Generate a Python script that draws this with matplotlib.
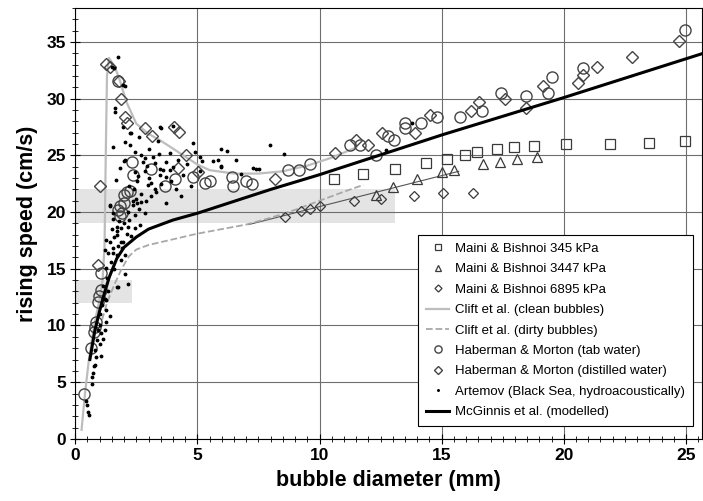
import numpy as np
import matplotlib
matplotlib.use("Agg")
import matplotlib.pyplot as plt
from matplotlib.patches import Rectangle
from matplotlib.ticker import MultipleLocator

plt.rcParams['font.family'] = ['Liberation Sans', 'DejaVu Sans']

# Maini & Bishnoi 345 kPa (squares)
mb345_x = [10.6, 11.8, 13.1, 14.35, 15.2, 15.95, 16.45, 17.25, 17.95, 18.8, 20.1, 21.9, 23.5, 24.95]
mb345_y = [22.9, 23.4, 23.8, 24.35, 24.7, 25.0, 25.3, 25.6, 25.7, 25.8, 26.0, 26.0, 26.1, 26.3]

# Maini & Bishnoi 3447 kPa (triangles)
mb3447_x = [12.3, 13.0, 14.0, 15.0, 15.5, 16.7, 17.4, 18.1, 18.9]
mb3447_y = [21.5, 22.2, 22.9, 23.5, 23.7, 24.2, 24.45, 24.7, 24.9]

# Maini & Bishnoi 6895 kPa (small diamonds)
mb6895_x = [8.6, 9.26, 9.6, 10.0, 11.4, 12.5, 13.85, 15.05, 16.28]
mb6895_y = [19.6, 20.1, 20.3, 20.55, 21.0, 21.2, 21.45, 21.7, 21.7]

# thin fit line through the Maini data
fit_x = [7.1, 15.7]
fit_y = [18.9, 23.6]

# Clift et al. clean bubbles
clean_x = [0.26, 0.4, 0.55, 0.7, 0.85, 1.0, 1.12, 1.2, 1.25, 1.3, 1.38, 1.6, 1.8, 2.1, 2.5, 3.0,
           3.5, 4.0, 4.5, 5.0, 5.5, 6.5, 7.5, 8.5, 9.5, 10.5, 11.5]
clean_y = [0.8, 4.0, 6.8, 9.0, 10.8, 12.3, 14.0, 17.0, 25.0, 32.0, 33.6, 32.9, 31.8, 29.7, 27.8, 26.9,
           26.3, 25.6, 24.9, 24.2, 23.7, 23.4, 23.4, 23.6, 24.1, 24.8, 25.7]

# Clift et al. dirty bubbles
dirty_x = [1.1, 1.3, 1.6, 1.9, 2.2, 2.5, 3.0, 4.0, 5.0, 6.0, 7.0, 8.0, 9.0, 10.0, 11.0, 11.8]
dirty_y = [10.5, 12.0, 13.6, 15.0, 16.1, 16.7, 17.1, 17.6, 18.1, 18.5, 18.9, 19.5, 20.2, 21.0, 21.8, 22.4]

# Haberman & Morton tap water (circles)
tap_x = [0.35, 0.65, 0.75, 0.8, 0.87, 0.92, 0.96, 1.07, 1.07, 1.76, 1.82, 1.85, 1.9, 2.0, 1.99, 2.1,
         2.23, 2.34, 2.37, 3.12, 3.66, 4.07, 4.82, 5.3, 5.5, 6.43, 6.46, 6.98, 7.25, 8.7, 9.15, 9.62,
         11.26, 11.64, 12.32, 12.8, 13.03, 13.48, 13.48, 14.16, 14.8, 15.77, 16.66, 17.44, 18.45,
         19.34, 19.5, 20.77, 24.96, 1.76]
tap_y = [4.0, 8.0, 9.4, 9.9, 10.3, 12.1, 12.6, 13.1, 14.6, 20.2, 19.7, 20.5, 19.9, 20.8, 21.5, 21.8,
         21.9, 24.4, 23.3, 23.8, 22.3, 22.9, 23.1, 22.55, 22.7, 23.1, 22.3, 22.7, 22.5, 23.7, 23.7, 24.2,
         25.9, 25.9, 25.0, 26.7, 26.4, 27.9, 27.4, 27.9, 28.4, 28.4, 28.9, 30.5, 30.2,
         30.5, 31.9, 32.7, 36.1, 31.6]

# Haberman & Morton distilled water (diamonds)
dist_x = [0.92, 1.02, 1.26, 1.42, 1.8, 1.88, 2.03, 2.1, 2.84, 3.16, 4.03, 4.25, 4.55, 4.21, 5.03,
          8.16, 10.64, 11.48, 11.98, 12.57, 13.89, 14.52, 16.22, 16.51, 17.61, 18.45, 19.14, 20.57,
          20.77, 21.35, 22.8, 24.73]
dist_y = [15.3, 22.3, 33.1, 32.8, 31.6, 30.0, 28.4, 27.9, 27.4, 26.7, 27.5, 27.1, 25.0, 23.9, 23.5,
          22.9, 25.2, 26.4, 25.9, 27.0, 27.0, 28.6, 28.9, 29.7, 29.95, 29.2, 31.1, 31.4,
          32.1, 32.8, 33.7, 35.1]

# Artemov (Black Sea, hydroacoustically) - small dots
art_x = [0.46, 0.5, 0.53, 0.57, 0.67, 0.67, 0.73, 0.8, 0.85, 1.05, 1.01, 1.14, 1.07, 0.94, 1.0, 1.25,
         1.42, 1.28, 1.1, 1.21, 1.28, 1.35, 1.76, 1.69, 2.16, 2.03, 1.28, 1.89, 2.03, 1.35, 1.55, 1.21,
         1.55, 1.76, 1.42, 1.89, 1.96, 1.28, 1.69, 2.1, 1.69, 1.89, 2.44, 1.69, 2.16, 2.64, 1.55, 2.44,
         1.55, 2.85, 2.16, 1.42, 2.37, 1.42, 2.53, 3.73, 2.68, 2.5, 4.31, 3.32, 3.26, 4.14, 2.98, 4.76,
         2.53, 3.12, 3.94, 2.57, 3.46, 2.85, 3.6, 3.87, 3.46, 5.1, 7.41, 7.52, 4.0, 5.98, 5.98, 4.58,
         3.26, 2.78, 3.73, 2.03, 1.98, 5.17, 5.62, 5.85, 6.57, 2.85, 5.1, 3.43, 3.87, 8.53, 2.44, 3.02,
         5.98, 1.55, 7.96, 4.82, 2.23, 2.3, 3.46, 4.0, 1.96, 3.53, 1.62, 1.62, 2.03, 1.96, 1.59, 1.76,
         1.5, 12.73, 13.8, 7.28,
         1.6, 1.8, 2.0, 2.2, 1.5, 1.7, 1.9, 2.3, 1.45, 1.6, 2.6, 2.9, 3.1, 3.5, 2.2, 2.4, 2.7, 3.0,
         1.3, 1.15, 1.0, 0.9, 0.8, 0.75, 1.2,
         1.65, 1.85, 2.05, 2.25, 2.45, 2.7, 2.95, 3.2, 3.4, 3.7, 4.2, 4.4, 4.9, 6.2, 6.8, 2.35, 2.6]
art_y = [3.3, 3.0, 2.4, 2.1, 4.85, 5.5, 5.8, 6.5, 7.2, 7.3, 8.4, 8.8, 9.3, 9.6, 10.0, 10.3,
         10.85, 11.4, 11.8, 12.3, 12.25, 13.0, 13.4, 13.4, 13.7, 14.5, 15.05, 15.8, 16.2, 16.4, 16.4, 16.7,
         16.8, 17.0, 17.4, 17.4, 17.4, 17.5, 18.0, 18.1, 18.3, 18.6, 18.6, 18.7, 18.7, 18.9, 19.4, 19.75,
         19.9, 19.9, 20.0, 20.5, 20.6, 20.6, 20.8, 20.8, 20.9, 21.2, 21.4, 21.8, 22.0, 22.0, 22.4, 22.3,
         22.7, 22.6, 22.7, 23.2, 23.3, 23.6, 23.7, 23.7, 23.8, 23.6, 23.8, 23.8, 24.0, 24.0, 24.1, 24.2,
         24.3, 24.4, 24.45, 24.6, 24.5, 24.5, 24.55, 24.6, 24.6, 24.75, 24.9, 25.1, 25.2, 25.1, 25.3, 25.6,
         25.6, 25.7, 25.9, 26.1, 27.0, 27.0, 27.5, 27.6, 27.5, 27.4, 28.8, 29.2, 31.1, 31.2, 32.7, 33.7,
         32.8, 25.5, 27.9, 23.9,
         17.8, 19.2, 19.0, 19.3, 18.5, 16.2, 16.8, 17.9, 15.6, 15.0, 20.3, 21.0, 21.4, 22.5, 22.3, 22.0, 21.6, 23.0,
         14.2, 13.5, 11.0, 8.7, 7.8, 6.4, 9.6,
         22.8, 23.9, 26.2, 25.9, 23.5, 25.0, 24.1, 24.9, 26.3, 23.1, 24.6, 23.3, 25.3, 25.4, 23.4, 21.0, 26.6]

# McGinnis et al. (modelled)
mcg_x = [0.6, 0.8, 1.0, 1.2, 1.4, 1.7, 2.0, 2.5, 3.0, 4.0, 5.0, 6.0, 8.0, 10.0, 12.0, 15.0, 20.0, 25.7]
mcg_y = [7.0, 9.5, 11.3, 12.9, 14.3, 15.9, 16.9, 17.8, 18.5, 19.3, 19.9, 20.6, 22.0, 23.3, 24.7, 26.8, 30.1, 34.0]

# grey shaded ranges (x0, x1, y0, y1)
bands = [(0.0, 13.1, 19.0, 22.0), (0.0, 2.33, 12.0, 14.0)]

fig = plt.figure(figsize=(7.03, 5.01), dpi=100)
ax = fig.add_axes([0.107, 0.124, 0.892, 0.860])

for x0, x1, y0, y1 in bands:
    ax.add_patch(Rectangle((x0, y0), x1 - x0, y1 - y0, facecolor='#e4e4e4', edgecolor='none', zorder=0))

ax.grid(True, which='major', color='#6e6e6e', linewidth=0.8, zorder=0.5)

ec = '#3a3a3a'
ax.plot(mb345_x, mb345_y, 's', ms=7, mfc='none', mec=ec, mew=0.9, label='Maini & Bishnoi 345 kPa', zorder=3)
ax.plot(mb3447_x, mb3447_y, '^', ms=7, mfc='none', mec=ec, mew=0.9, label='Maini & Bishnoi 3447 kPa', zorder=3)
ax.plot(mb6895_x, mb6895_y, 'D', ms=5.5, mfc='none', mec=ec, mew=0.9, label='Maini & Bishnoi 6895 kPa', zorder=3)
ax.plot(fit_x, fit_y, '-', color='#555555', lw=0.8, zorder=2)
ax.plot(clean_x, clean_y, '-', color='#bdbdbd', lw=1.6, label='Clift et al. (clean bubbles)', zorder=2)
ax.plot(dirty_x, dirty_y, '--', color='#a8a8a8', lw=1.3, label='Clift et al. (dirty bubbles)', zorder=2)
ax.plot(tap_x, tap_y, 'o', ms=8, mfc='none', mec='#444444', mew=1.0, label='Haberman & Morton (tab water)', zorder=3)
ax.plot(dist_x, dist_y, 'D', ms=6.5, mfc='none', mec='#444444', mew=1.0, label='Haberman & Morton (distilled water)', zorder=3)
ax.plot(art_x, art_y, '.', ms=3.5, color='black', label='Artemov (Black Sea, hydroacoustically)', zorder=3)
ax.plot(mcg_x, mcg_y, '-', color='black', lw=2.2, label='McGinnis et al. (modelled)', zorder=4)

ax.set_xlim(0, 25.67)
ax.set_ylim(0, 38)
ax.xaxis.set_major_locator(MultipleLocator(5))
ax.xaxis.set_minor_locator(MultipleLocator(0.5))
ax.yaxis.set_major_locator(MultipleLocator(5))
ax.yaxis.set_minor_locator(MultipleLocator(1))
ax.tick_params(which='major', direction='inout', length=7, width=0.8, labelsize=12.5, pad=3)
ax.tick_params(which='minor', direction='inout', length=4, width=0.6)
for lab in ax.get_xticklabels() + ax.get_yticklabels():
    lab.set_fontweight('bold')

ax.set_xlabel('bubble diameter (mm)', fontsize=15.5, fontweight='bold', labelpad=5)
ax.set_ylabel('rising speed (cm/s)', fontsize=15.5, fontweight='bold', labelpad=6)

leg = ax.legend(loc='lower right', bbox_to_anchor=(0.996, 0.014), fontsize=9.5, markerscale=0.65,
                frameon=True, fancybox=False, framealpha=1, edgecolor='black',
                handlelength=1.7, labelspacing=0.62, borderpad=0.6, handletextpad=0.5)
leg.get_frame().set_linewidth(0.8)

fig.savefig('out.png', dpi=100)
